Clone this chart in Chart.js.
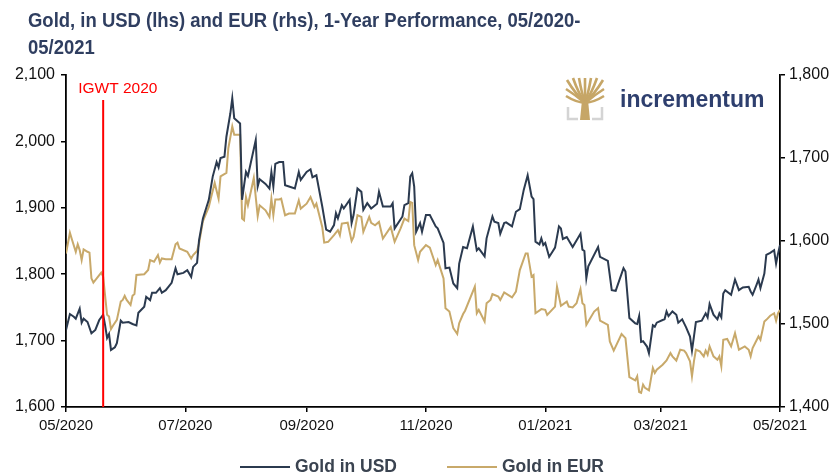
<!DOCTYPE html>
<html><head><meta charset="utf-8">
<script src="https://cdn.jsdelivr.net/npm/chart.js@4.4.1/dist/chart.umd.min.js"></script>
<style>html,body{margin:0;padding:0;background:#fff;}#wrap{width:838px;height:475px;position:relative;}</style>
</head><body><div id="wrap"><canvas id="c"></canvas></div>
<script>
// ---- data ----
const titleLines = ['Gold, in USD (lhs) and EUR (rhs), 1-Year Performance, 05/2020-', '05/2021'];
const seriesNames = ['Gold in USD', 'Gold in EUR'];
const xTickDays = [0, 61, 123, 184, 245, 304, 365];
const xTickLabels = ['05/2020', '07/2020', '09/2020', '11/2020', '01/2021', '03/2021', '05/2021'];
const leftTicks = [1600, 1700, 1800, 1900, 2000, 2100];
const rightTicks = [1400, 1500, 1600, 1700, 1800];
const igwtDay = 19;
const igwtLabel = 'IGWT 2020';
const logoText = 'incrementum';

const usdDays = [0,2,4,5,7,8,9,11,13,15,17,19,20,21,22,23,25,26,28,29,32,34,36,37,40,41,43,44,46,48,49,51,54,56,57,60,62,64,65,67,68,70,73,75,77,78,79,81,82,84,85,86,89,90,92,93,97,98,99,102,104,105,106,107,109,111,112,114,117,119,120,123,125,126,128,131,133,135,137,138,139,141,142,145,146,147,149,151,152,154,156,159,160,162,166,167,168,172,173,175,176,177,178,179,181,182,184,186,189,190,193,194,196,198,200,201,203,205,208,210,211,214,215,218,219,221,222,224,225,228,230,232,234,236,238,239,240,242,243,244,245,247,250,252,253,254,256,259,263,264,265,266,267,272,273,277,279,281,285,286,288,291,292,293,294,295,297,298,300,301,302,305,306,307,308,310,312,313,315,316,317,319,320,321,322,325,327,328,329,331,333,334,335,336,337,340,342,344,346,349,350,351,353,354,355,357,358,360,362,363,364,365];
const usdValues = [1716,1740,1736,1733,1748,1727,1733,1728,1711,1716,1731,1739,1723,1704,1710,1686,1690,1696,1730,1727,1728,1725,1723,1742,1751,1766,1761,1772,1772,1779,1772,1776,1787,1809,1800,1802,1806,1796,1811,1817,1851,1884,1912,1947,1969,1961,1975,1977,2007,2042,2065,2035,2027,1912,1954,1948,2002,1932,1943,1936,1929,1954,1932,1966,1969,1969,1934,1932,1929,1954,1942,1954,1958,1946,1949,1902,1867,1864,1874,1892,1884,1904,1899,1912,1877,1889,1929,1924,1897,1907,1899,1906,1924,1902,1902,1907,1869,1887,1904,1907,1947,1952,1932,1864,1877,1864,1889,1889,1872,1869,1847,1809,1810,1786,1779,1816,1841,1839,1872,1836,1839,1827,1854,1887,1879,1877,1861,1877,1878,1872,1894,1898,1927,1949,1917,1913,1849,1845,1854,1844,1847,1826,1840,1872,1869,1853,1856,1841,1861,1837,1835,1794,1812,1841,1826,1820,1776,1775,1809,1804,1734,1726,1725,1737,1698,1699,1691,1681,1723,1721,1727,1731,1732,1744,1737,1744,1739,1727,1732,1726,1720,1706,1685,1706,1728,1730,1741,1735,1755,1739,1732,1741,1735,1771,1776,1769,1792,1776,1780,1781,1774,1769,1784,1792,1779,1801,1829,1832,1836,1816,1831,1844];

const eurDays = [0,2,3,5,6,7,8,9,11,12,13,14,16,18,19,21,22,23,24,26,28,29,30,31,33,34,35,36,40,42,43,45,47,48,49,51,54,56,57,58,62,64,65,67,68,70,73,74,76,78,79,82,83,85,86,89,90,91,92,93,96,98,99,102,104,105,106,107,109,110,112,114,117,119,120,123,125,127,128,131,132,134,137,139,140,141,144,146,147,149,151,152,155,156,158,160,162,166,168,171,173,175,176,177,178,180,181,184,186,188,189,190,193,194,196,198,200,201,203,204,209,210,211,214,215,217,218,221,222,224,228,230,232,235,236,238,239,240,243,245,246,250,251,253,256,257,259,261,263,264,265,266,270,272,273,277,278,280,284,286,288,291,292,293,294,295,296,298,300,301,302,305,307,309,310,312,314,316,317,319,320,321,322,324,326,327,328,329,331,333,334,335,336,338,340,342,344,347,349,350,351,354,355,357,358,360,362,363,364,365];
const eurValues = [1585,1610,1602,1587,1596,1589,1577,1590,1587,1586,1555,1550,1556,1562,1557,1511,1509,1494,1498,1505,1527,1529,1534,1529,1523,1534,1536,1559,1560,1565,1577,1575,1583,1574,1579,1578,1578,1596,1598,1591,1587,1579,1583,1588,1597,1624,1641,1651,1670,1651,1678,1682,1712,1738,1728,1728,1627,1625,1653,1643,1676,1630,1643,1637,1629,1651,1631,1650,1650,1651,1631,1633,1633,1649,1639,1645,1653,1641,1645,1617,1598,1599,1607,1613,1607,1621,1622,1600,1605,1631,1629,1611,1629,1622,1619,1623,1603,1617,1599,1615,1627,1624,1647,1646,1595,1577,1587,1595,1592,1578,1571,1577,1555,1519,1515,1495,1488,1501,1512,1516,1545,1513,1517,1503,1525,1529,1536,1533,1529,1538,1532,1539,1565,1585,1585,1557,1559,1513,1518,1517,1511,1521,1545,1522,1527,1521,1520,1525,1542,1525,1523,1499,1515,1519,1504,1499,1479,1468,1488,1483,1436,1432,1437,1418,1417,1427,1423,1420,1447,1441,1445,1451,1456,1465,1461,1456,1469,1468,1465,1455,1437,1455,1469,1467,1461,1468,1463,1473,1461,1457,1461,1449,1481,1482,1473,1489,1469,1473,1469,1461,1471,1485,1481,1503,1505,1510,1513,1504,1513,1517];

// ---- styling ----
const FONT = 'Liberation Sans, Arial, Helvetica, sans-serif';
const USD_COLOR = '#2b3a4f';
const EUR_COLOR = '#c8a96a';
const TITLE_COLOR = '#2f3e60';

const fmt = v => v.toLocaleString('en-US');
const usdPoints = usdDays.map((d, i) => ({x: d, y: usdValues[i]}));
const eurPoints = eurDays.map((d, i) => ({x: d, y: eurValues[i]}));

function condensedText(ctx, text, x, y, sx) {
  ctx.save();
  ctx.translate(x, y);
  ctx.scale(sx, 1);
  ctx.fillText(text, 0, 0);
  ctx.restore();
}

const extras = {
  id: 'extras',
  afterDatasetsDraw(chart) {
    const ctx = chart.ctx;
    const xs = chart.scales.x;
    const px = xs.getPixelForValue(igwtDay);
    ctx.save();
    ctx.strokeStyle = '#ff0000';
    ctx.lineWidth = 2;
    ctx.beginPath();
    ctx.moveTo(px, 100);
    ctx.lineTo(px, chart.chartArea.bottom);
    ctx.stroke();
    ctx.fillStyle = '#ff0000';
    ctx.font = '15.5px ' + FONT;
    ctx.textBaseline = 'alphabetic';
    ctx.textAlign = 'left';
    ctx.fillText(igwtLabel, px - 25, 93);
    ctx.restore();
  },
  afterDraw(chart) {
    const ctx = chart.ctx;
    ctx.save();
    // title
    ctx.fillStyle = TITLE_COLOR;
    ctx.font = 'bold 21px ' + FONT;
    ctx.textAlign = 'left';
    ctx.textBaseline = 'alphabetic';
    condensedText(ctx, titleLines[0], 28, 27, 0.88);
    condensedText(ctx, titleLines[1], 28, 54, 0.88);
    // logo
    ctx.strokeStyle = '#d4d4d4';
    ctx.lineWidth = 2.5;
    ctx.beginPath(); ctx.moveTo(568, 107); ctx.lineTo(568, 119); ctx.lineTo(578, 119); ctx.stroke();
    ctx.beginPath(); ctx.moveTo(602, 107); ctx.lineTo(602, 119); ctx.lineTo(592, 119); ctx.stroke();
    const gold = '#c6a667';
    ctx.fillStyle = gold;
    ctx.beginPath();
    ctx.moveTo(580, 120); ctx.lineTo(590, 120); ctx.lineTo(588, 100); ctx.lineTo(582, 100); ctx.closePath();
    ctx.fill();
    ctx.strokeStyle = gold;
    ctx.lineWidth = 2.6;
    const tips = [[567,80],[573,78],[579,78],[585,78],[591,78],[597,78],[603,80]];
    tips.forEach(t => {
      ctx.beginPath(); ctx.moveTo(585, 102);
      ctx.quadraticCurveTo((585 + t[0]) / 2, 95, t[0], t[1]);
      ctx.stroke();
    });
    [[566,89],[566,96],[604,89],[604,96]].forEach(t => {
      ctx.beginPath(); ctx.moveTo(585, 103);
      ctx.quadraticCurveTo((585 + t[0]) / 2, t[1] + 6, t[0], t[1]);
      ctx.stroke();
    });
    ctx.fillStyle = '#2e3f6e';
    ctx.font = 'bold 23px ' + FONT;
    ctx.fillText(logoText, 620, 107);
    // legend
    const items = [
      {lx: 240, tx: 295, ds: chart.data.datasets[0]},
      {lx: 447, tx: 502, ds: chart.data.datasets[1]}
    ];
    ctx.font = 'bold 19px ' + FONT;
    ctx.textBaseline = 'middle';
    items.forEach(it => {
      ctx.strokeStyle = it.ds.borderColor;
      ctx.lineWidth = 2;
      ctx.beginPath(); ctx.moveTo(it.lx, 467); ctx.lineTo(it.lx + 50, 467); ctx.stroke();
      ctx.fillStyle = '#3a4350';
      condensedText(ctx, it.ds.label, it.tx, 467, 0.92);
    });
    ctx.restore();
  }
};

const axisCommon = {
  grid: {display: true, drawOnChartArea: false, drawTicks: true, tickLength: 5, color: '#000', lineWidth: 1.5},
  border: {display: true, color: '#000', width: 1.8}
};

new Chart(document.getElementById('c'), {
  type: 'line',
  data: {
    datasets: [
      {label: seriesNames[0], data: usdPoints, yAxisID: 'y', borderColor: USD_COLOR, backgroundColor: USD_COLOR, borderWidth: 2, pointRadius: 0, tension: 0},
      {label: seriesNames[1], data: eurPoints, yAxisID: 'y1', borderColor: EUR_COLOR, backgroundColor: EUR_COLOR, borderWidth: 2, pointRadius: 0, tension: 0}
    ]
  },
  options: {
    responsive: true,
    maintainAspectRatio: false,
    animation: false,
    events: [],
    layout: {padding: {top: 75, left: 0, right: 0, bottom: 0}},
    plugins: {legend: {display: false}, title: {display: false}, tooltip: {enabled: false}},
    scales: {
      x: Object.assign({}, axisCommon, {
        type: 'linear', min: 0, max: 365,
        afterBuildTicks: s => { s.ticks = xTickDays.map(v => ({value: v})); },
        afterFit: s => { s.height = 68; },
        ticks: {autoSkip: false, maxRotation: 0, padding: 5, color: '#111', font: {family: FONT, size: 15},
          callback: v => xTickLabels[xTickDays.indexOf(v)]}
      }),
      y: Object.assign({}, axisCommon, {
        position: 'left', min: 1600, max: 2100,
        afterBuildTicks: s => { s.ticks = leftTicks.map(v => ({value: v})); },
        afterFit: s => { s.width = 66; },
        ticks: {padding: 6, color: '#111', font: {family: FONT, size: 16}, callback: v => fmt(v)}
      }),
      y1: Object.assign({}, axisCommon, {
        position: 'right', min: 1400, max: 1800,
        afterBuildTicks: s => { s.ticks = rightTicks.map(v => ({value: v})); },
        afterFit: s => { s.width = 58; },
        ticks: {padding: 4, color: '#111', font: {family: FONT, size: 16}, callback: v => fmt(v)}
      })
    }
  },
  plugins: [extras]
});
</script>
</body></html>
